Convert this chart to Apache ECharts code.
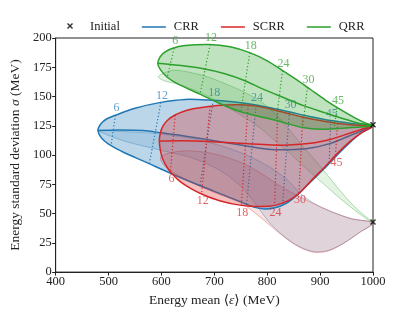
<!DOCTYPE html>
<html><head><meta charset="utf-8">
<script src="https://cdn.jsdelivr.net/npm/echarts@6/dist/echarts.min.js"></script>
<style>html,body{margin:0;padding:0;background:#fff}#c{width:415px;height:312px}</style>
</head><body><div id="c"></div>
<script>
const xTicks=[400,500,600,700,800,900,1000];
const yTicks=[0,25,50,75,100,125,150,175,200];
const timeLabels=['6','12','18','24','30','45'];
const initialPoints=[[1000,125],[1000,42]];

// CRR (blue)
const crrUpper=[[480,121],[486,127],[497,131],[513,134],[550,140],[599,145],[645,147.5],[690,147],[735,145.5],[776,143],[810,140],[845,136.5],[880,133],[920,129.5],[960,127],[1000,125]];
const crrMiddle=[[480,121],[520,121.5],[565,121],[600,119],[640,116.5],[689,113],[750,108.5],[801,105],[840,104.5],[882,106],[920,110],[945,114.5],[975,120],[1000,125]];
const crrLower=[[480,121],[488,114],[505,108],[530,102],[565,95],[640,80],[700,69],[750,60],[775,55.5],[795,54],[815,55],[835,58.5],[857,66],[882,77],[907,88],[930,99],[950,108],[975,118],[1000,125]];
const crrFaintUpper=[[480,121],[530,120],[600,118],[680,112],[750,102],[800,91],[840,78],[863,67],[895,57],[925,51],[960,45.5],[1000,42]];
const crrFaintLower=[[480,121],[505,116],[533,111.5],[600,104],[658,97.5],[710,87],[751,73],[780,57],[803,43],[832,30.5],[860,22],[888,17.5],[915,18.5],[944,24.5],[975,34],[1000,42]];
const crrTimeTop=[[513,134],[599,145],[698,146.8],[779,142.8],[842,137],[920,129.5]];
const crrTimeBottom=[[505,108.5],[577,92.5],[673,74],[761,58],[829,57.5],[917,92]];

// SCRR (red)
const scrrUpper=[[596,112],[598,119],[603,125],[612,130],[625,134],[640,137],[660,139.5],[689,141.5],[720,142.8],[750,143],[780,141.8],[810,139],[840,135.5],[867,132.5],[900,129.5],[935,127],[970,125.5],[1000,125]];
const scrrMiddle=[[596,112],[640,112.3],[689,111.6],[740,110.3],[801,108.8],[840,108.5],[882,110],[920,113.5],[945,117],[975,121.5],[1000,125]];
const scrrLower=[[596,112],[598,104],[602,97],[610,90],[620,84],[635,77.5],[655,71.5],[677,66.5],[710,61],[751,57],[790,56],[815,57],[840,61],[862,68],[885,79],[907,89],[932,101],[955,111],[980,119.5],[1000,125]];
const scrrFaintUpper=[[598,98],[610,101],[630,103],[658,103.5],[700,101],[751,93.5],[790,84],[826,73],[863,64],[895,57],[925,51],[960,45.5],[1000,42]];
const scrrFaintLower=[[598,98],[605,91],[627,84],[660,76],[689,70],[720,64.5],[751,59],[770,53],[800,42],[832,30],[860,21.5],[888,17],[915,18],[944,24.5],[975,34],[1000,42]];
const scrrTimeTop=[[626,134],[692,141.6],[764,142.5],[820,138.5],[867,132.5],[933,127]];
const scrrTimeBottom=[[617,85.5],[676,67],[751,57],[814,57],[860,67.5],[929,99.5]];

// QRR (green)
const qrrUpper=[[593,178.5],[597,183.5],[605,187.5],[620,191],[645,193.5],[690,194.5],[730,192.5],[767,187.5],[800,180.5],[830,172],[857,164],[882,156],[910,147],[938,139],[965,132],[985,127.5],[1000,125]];
const qrrMiddle=[[593,178.5],[627,177],[677,174],[720,169.5],[758,163.5],[789,157],[826,150],[870,142],[910,136],[944,131],[975,127],[1000,125]];
const qrrLower=[[593,178.5],[598,173],[611,166.5],[630,161],[673,152],[710,144],[750,137],[785,133],[817,129.5],[845,126],[867,123.5],[900,122],[926,122.5],[960,123.5],[1000,125]];
const qrrFaintUpper=[[594,167],[610,171],[627,172.5],[660,170],[689,166.5],[720,161],[751,155],[790,145],[820,133],[845,120],[870,106],[888,97],[910,85],[935,71],[965,56],[1000,42]];
const qrrFaintLower=[[594,167],[605,163.5],[627,161],[660,156],[689,150],[720,142],[751,134],[790,122],[815,112],[839,103],[870,90],[900,78],[935,64],[965,53],[1000,42]];
const qrrTimeTop=[[624,191.3],[692,194.5],[767,187.5],[829,172.2],[876,158],[932,140.5]];
const qrrTimeBottom=[[611,166.5],[673,152],[750,137],[817,129.5],[867,123.5],[926,122.5]];

const COLORS={crr:'#1f77b4',scrr:'#d62728',qrr:'#2ca02c'};
const FONT='"Liberation Serif", "DejaVu Serif", serif';

function rgba(hex,a){const n=parseInt(hex.slice(1),16);return `rgba(${n>>16&255},${n>>8&255},${n&255},${a})`;}
function closed(up,low){return up.concat(low.slice(1,-1).reverse());}
function px(api,pts){return pts.map(p=>api.coord(p));}

function faintSeries(name,color,up,low){
  return {type:'custom',name:name,silent:true,clip:false,z:1,data:[[700,100]],
    renderItem:function(params,api){
      return {type:'polygon',shape:{points:px(api,closed(up,low)),smooth:0.3},
        style:{fill:rgba(color,0.13),stroke:rgba(color,0.35),lineWidth:1}};
    }};
}
function mainSeries(name,color,up,mid,low,top,bottom,labelAtTop,z){
  return {type:'custom',name:name,silent:true,clip:false,z:z,data:[[700,100]],
    renderItem:function(params,api){
      const ch=[];
      ch.push({type:'polygon',shape:{points:px(api,closed(up,low)),smooth:0.3},
        style:{fill:rgba(color,0.3),stroke:color,lineWidth:1.5}});
      ch.push({type:'polyline',shape:{points:px(api,mid),smooth:0.3},
        style:{fill:null,stroke:color,lineWidth:1.5}});
      for(let i=0;i<top.length;i++){
        const a=api.coord(top[i]),b=api.coord(bottom[i]);
        ch.push({type:'polyline',shape:{points:[a,b]},
          style:{fill:null,stroke:color,lineWidth:1.2,lineDash:[1.2,2.2]}});
        const p=labelAtTop?a:b;
        ch.push({type:'text',x:p[0]+1,y:labelAtTop?p[1]-1:p[1]+1,
          style:{text:timeLabels[i],fill:rgba(color,0.72),font:'12px '+FONT,
            align:'center',verticalAlign:labelAtTop?'bottom':'top'}});
      }
      return {type:'group',children:ch};
    }};
}

const PAD='M0,0 L0.01,0 L0,0.01 Z M24,14 L23.99,14 L24,13.99 Z ';
const xIcon='path://'+PAD+'M9,4 L10,3 L12,5 L14,3 L15,4 L13,6 L15,8 L14,9 L12,7 L10,9 L9,8 L11,6 Z';
const lineIcon='path://'+PAD+'M0,6.25 L24,6.25 L24,7.75 L0,7.75 Z';

const chart=echarts.init(document.getElementById('c'),null,{renderer:'canvas'});
chart.setOption({
  animation:false,
  backgroundColor:'#fff',
  textStyle:{fontFamily:FONT},
  legend:{top:15,left:53,itemWidth:24,itemHeight:14,itemGap:22,
    textStyle:{fontFamily:FONT,fontSize:12.5,color:'#222',padding:[0,0,0,3]},
    data:[{name:'Initial',icon:xIcon},{name:'CRR',icon:lineIcon},{name:'SCRR',icon:lineIcon},{name:'QRR',icon:lineIcon}]},
  grid:{left:52,right:42,top:38,bottom:35,show:true,borderColor:'#222',borderWidth:1},
  xAxis:{type:'value',min:xTicks[0],max:xTicks[xTicks.length-1],interval:100,
    name:'{a|Energy mean ⟨}{i|ε}{a|⟩ (MeV)}',nameLocation:'middle',nameGap:19,
    nameTextStyle:{rich:{a:{fontFamily:FONT,fontSize:13.5,color:'#222'},i:{fontFamily:FONT,fontStyle:'italic',fontSize:13.5,color:'#222'}}},
    axisLine:{show:true,lineStyle:{color:'#222'}},axisTick:{show:true,length:3.5,lineStyle:{color:'#222'}},
    axisLabel:{fontFamily:FONT,fontSize:12.5,color:'#222',margin:3,formatter:v=>String(v)},splitLine:{show:false}},
  yAxis:{type:'value',min:yTicks[0],max:yTicks[yTicks.length-1],interval:25,
    name:'{a|Energy standard deviation }{i|σ}{a| (MeV)}',nameLocation:'middle',nameGap:31,
    nameTextStyle:{rich:{a:{fontFamily:FONT,fontSize:13.5,color:'#222'},i:{fontFamily:FONT,fontStyle:'italic',fontSize:13.5,color:'#222'}}},
    axisLine:{show:true,lineStyle:{color:'#222'}},axisTick:{show:true,length:3.5,lineStyle:{color:'#222'}},
    axisLabel:{fontFamily:FONT,fontSize:12.5,color:'#222',margin:4,formatter:v=>String(v)},splitLine:{show:false}},
  series:[
    faintSeries('crrF',COLORS.crr,crrFaintUpper,crrFaintLower),
    faintSeries('scrrF',COLORS.scrr,scrrFaintUpper,scrrFaintLower),
    faintSeries('qrrF',COLORS.qrr,qrrFaintUpper,qrrFaintLower),
    mainSeries('crrM',COLORS.crr,crrUpper,crrMiddle,crrLower,crrTimeTop,crrTimeBottom,true,2),
    mainSeries('scrrM',COLORS.scrr,scrrUpper,scrrMiddle,scrrLower,scrrTimeTop,scrrTimeBottom,false,3),
    mainSeries('qrrM',COLORS.qrr,qrrUpper,qrrMiddle,qrrLower,qrrTimeTop,qrrTimeBottom,true,4),
    {type:'line',name:'CRR',data:[],symbol:'none',lineStyle:{color:COLORS.crr,width:1.5},itemStyle:{color:COLORS.crr}},
    {type:'line',name:'SCRR',data:[],symbol:'none',lineStyle:{color:COLORS.scrr,width:1.5},itemStyle:{color:COLORS.scrr}},
    {type:'line',name:'QRR',data:[],symbol:'none',lineStyle:{color:COLORS.qrr,width:1.5},itemStyle:{color:COLORS.qrr}},
    {type:'scatter',name:'Initial',data:initialPoints,symbol:xIcon,symbolSize:[24,14],z:10,clip:false,
      itemStyle:{color:'#000'}}
  ]
});
</script></body></html>
